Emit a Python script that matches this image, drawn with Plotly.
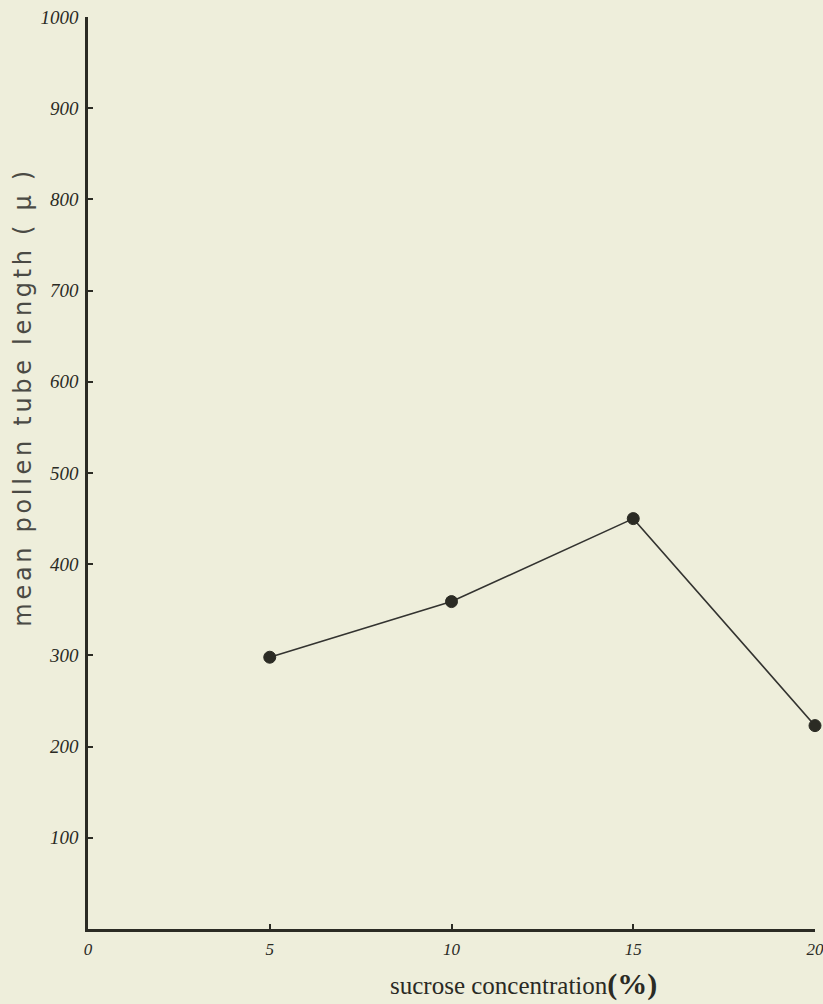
import plotly.graph_objects as go

# Data
sucrose = [5, 10, 15, 20]
tube_length = [298, 359, 450, 223]

x_ticks = [0, 5, 10, 15, 20]
x_ticktext = ["0", "5", "10", "15", "20"]
y_ticks = [100, 200, 300, 400, 500, 600, 700, 800, 900, 1000]
y_ticktext = ["100", "200", "300", "400", "500", "600", "700", "800", "900", "1000"]

bg = "#eeeedb"
ink = "#2b2b24"

W, H = 823, 1004
L, R, T, B = 88, 8, 17, 75
pw, ph = W - L - R, H - T - B

def px_to_paper(xp, yp):
    return (xp - L) / pw, (H - B - yp) / ph

fig = go.Figure()
fig.add_trace(go.Scatter(
    x=sucrose, y=tube_length, mode="lines+markers",
    line=dict(color="#333330", width=1.6),
    marker=dict(symbol="circle", size=12, color=ink,
                line=dict(color=ink, width=1)),
    cliponaxis=False, showlegend=False, hoverinfo="skip",
))

xtickfont = dict(family="Liberation Serif", size=17, color="#2a2a24", style="italic")
ytickfont = dict(family="Liberation Serif", size=19, color="#2a2a24", style="italic")

fig.update_xaxes(
    range=[0, 20], tickvals=x_ticks, ticktext=x_ticktext,
    showgrid=False, zeroline=False, showline=True, linecolor=ink, linewidth=2.5,
    ticks="inside", ticklen=5, tickwidth=2, tickcolor=ink, tickfont=xtickfont,
    ticklabeloverflow="allow", automargin=False, ticklabelstandoff=3,
)
fig.update_yaxes(
    range=[0, 1000], tickvals=y_ticks, ticktext=y_ticktext,
    showgrid=False, zeroline=False, showline=True, linecolor=ink, linewidth=2.5,
    ticks="inside", ticklen=5, tickwidth=2, tickcolor=ink, tickfont=ytickfont,
    ticklabeloverflow="allow", ticklabelstandoff=3, automargin=False,
)

ax, ay = px_to_paper(523, 984)
bx, by = px_to_paper(23, 397)
fig.add_annotation(
    x=ax, y=ay, xref="paper", yref="paper", showarrow=False,
    xanchor="center", yanchor="middle",
    text="sucrose concentration<b><span style='font-size:30px'>(%)</span></b>",
    font=dict(family="Liberation Serif", size=25, color="#2a2a24"),
)
fig.add_annotation(
    x=bx, y=by, xref="paper", yref="paper", showarrow=False,
    xanchor="center", yanchor="middle", textangle=-90,
    text="mean pollen tube length ( μ )",
    font=dict(family="DejaVu Sans", size=24, color="#4a4a44"),
)

fig.update_layout(
    width=W, height=H,
    margin=dict(l=L, r=R, t=T, b=B, autoexpand=False),
    paper_bgcolor=bg, plot_bgcolor=bg,
)

post = """
document.body.style.margin='0';
document.body.style.background='#eeeedb';
document.querySelectorAll('.annotation-text').forEach(function(e){
  if (e.textContent.indexOf('pollen') >= 0) {
    e.setAttribute('letter-spacing', '3.7px');
    e.style.letterSpacing = '3.7px';
  }
});
"""

fig.write_html("out.html", post_script=post, config={"displayModeBar": False})
